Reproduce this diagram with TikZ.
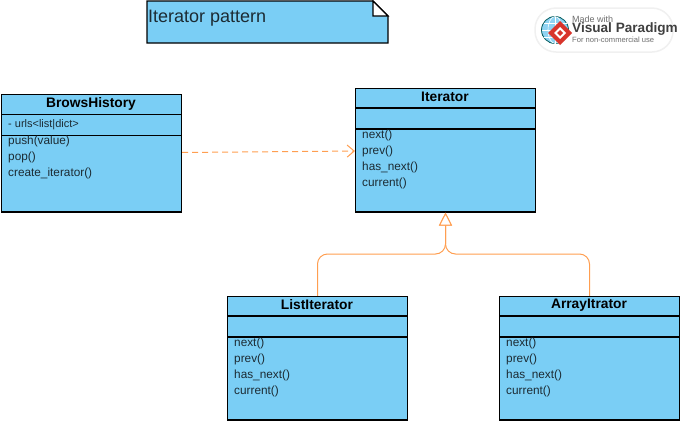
\documentclass[tikz,border=0pt]{standalone}
\usepackage{fontspec}
\setmainfont{Liberation Sans}
\usetikzlibrary{arrows.meta}
\definecolor{classblue}{HTML}{7ACEF5}
\definecolor{linkorange}{HTML}{FF9E50}
\definecolor{inktext}{HTML}{1C2B33}
\definecolor{logogray}{HTML}{6E6E6E}
\definecolor{logored}{HTML}{D8342B}
\definecolor{logoblue}{HTML}{8FD3F2}
\tikzset{
  classbox/.style={draw=black,line width=1.1pt,fill=classblue,minimum width=180pt,inner sep=0pt},
  classname/.style={font=\fontsize{13.8}{16}\selectfont\bfseries,text=black,anchor=center,inner sep=0pt},
  members/.style={font=\fontsize{11.8}{16}\selectfont,text=inktext,align=left,anchor=north west,inner sep=0pt},
  dependency/.style={draw=linkorange,line width=1pt,dashed,dash pattern=on 6pt off 4pt,-{Straight Barb[length=7pt,width=12pt]}},
  inherit/.style={draw=linkorange,line width=1pt,rounded corners=10pt,-{Triangle[open,fill=white,length=13pt,width=13pt]}}
}
\begin{document}
\begin{tikzpicture}[x=1pt,y=-1pt]
\useasboundingbox (0,0) rectangle (680,421);
% note
\draw[line width=1.1pt,fill=classblue] (147,1) -- (373,1) -- (388,16) -- (388,43) -- (147,43) -- cycle;
\draw[line width=1.1pt,fill=white] (373,1) -- (388,16) -- (373,16) -- cycle;
\node[anchor=west,inner sep=0pt,text=inktext,font=\fontsize{18}{20}\selectfont] (notetext) at (148,18) {Iterator pattern};
% logo
\fill[white,draw=black!6,line width=1.5pt,rounded corners=21pt] (535,8) rectangle (673,52);
\draw[teal!70!black,fill=logoblue,line width=.8pt] (555,30) circle (13.5);
\draw[white,line width=.6pt] (541.5,30) -- (568.5,30) (543.5,23) -- (566.5,23) (543.5,37) -- (566.5,37) (555,16.5) -- (555,43.5);
\draw[white,line width=.6pt] (555,30) ellipse (7 and 13.5);
\fill[logored] (560,21) -- (572,33) -- (560,45) -- (548,33) -- cycle;
\fill[white] (560,27) -- (566,33) -- (560,39) -- (554,33) -- cycle;
\fill[logored] (560,30) -- (563,33) -- (560,36) -- (557,33) -- cycle;
\node[anchor=west,inner sep=0pt,text=logogray,font=\fontsize{9}{10}\selectfont] (logotop) at (572,19) {Made with};
\node[anchor=west,inner sep=0pt,text=black!75,font=\fontsize{13.6}{14}\selectfont\bfseries] (logoname) at (572,29.5) {Visual Paradigm};
\node[anchor=west,inner sep=0pt,text=logogray,font=\fontsize{7.6}{9}\selectfont] (logouse) at (572,40) {For non-commercial use};
% BrowsHistory
\node[classbox,minimum height=117.5pt] (history) at (91.5,153.25) {};
\draw[line width=1.1pt] (1.5,114.5) -- (181.5,114.5) (1.5,135.5) -- (181.5,135.5);
\node[classname] (historyname) at (91,104) {BrowsHistory};
\node[members,font=\fontsize{11}{16}\selectfont] (historyattr) at (8,119) {- urls<list|dict>};
\node[members] (historyops) at (8,136) {push(value)\\pop()\\create\_iterator()};
% Iterator
\node[classbox,minimum height=123.5pt] (iterator) at (445.5,150.25) {};
\draw[line width=1.1pt] (355.5,108) -- (535.5,108) (355.5,129) -- (535.5,129);
\node[classname] (iteratorname) at (445,97) {Iterator};
\node[members] (iteratorops) at (362,130) {next()\\prev()\\has\_next()\\current()};
% ListIterator
\node[classbox,minimum height=123.5pt] (listit) at (317.5,358.25) {};
\draw[line width=1.1pt] (227.5,316) -- (407.5,316) (227.5,337) -- (407.5,337);
\node[classname] (listitname) at (317,305) {ListIterator};
\node[members] (listitops) at (234,338) {next()\\prev()\\has\_next()\\current()};
% ArrayItrator
\node[classbox,minimum height=123.5pt] (arrayit) at (589.5,358.25) {};
\draw[line width=1.1pt] (499.5,316) -- (679.5,316) (499.5,337) -- (679.5,337);
\node[classname] (arrayitname) at (589,305) {ArrayItrator};
\node[members] (arrayitops) at (506,338) {next()\\prev()\\has\_next()\\current()};
% links
\coordinate (split) at (445.5,254);
\draw[dependency] (history) -- (iterator);
\draw[inherit] (listit.north) |- (split) -- (iterator.south);
\draw[inherit] (arrayit.north) |- (split) -- (iterator.south);
\end{tikzpicture}
\end{document}
